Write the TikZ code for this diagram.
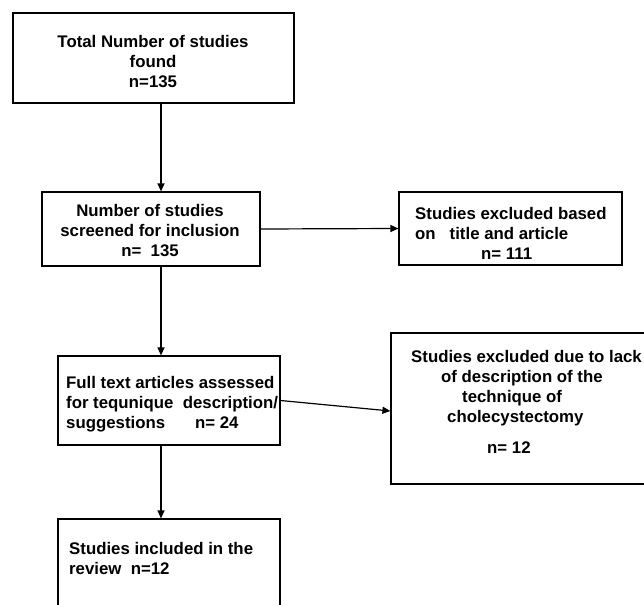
\documentclass[tikz,border=0pt]{standalone}
\usepackage{fontspec}
\setmainfont{Liberation Sans}
\usetikzlibrary{arrows.meta,calc}
\begin{document}
\begin{tikzpicture}[x=1pt,y=-1pt,
  boxnode/.style={draw=black,line width=1.2pt,rectangle,inner sep=0pt,fill=white},
  txt/.style={inner sep=0pt,font=\bfseries\fontsize{16.8}{20}\selectfont},
  conn/.style={line width=1.2pt,draw=black},
  arr/.style={conn,-{Triangle[length=8pt,width=7pt]}}]
\clip (0,0) rectangle (644,604);
\fill[white] (0,0) rectangle (644,604);
% boxes
\node[boxnode,minimum width=281pt,minimum height=90pt] (b1) at (153.5,58) {};
\node[boxnode,minimum width=218pt,minimum height=74pt] (b2) at (151,229) {};
\node[boxnode,minimum width=223pt,minimum height=73pt] (b3) at (510.5,228.5) {};
\node[boxnode,minimum width=222pt,minimum height=89pt] (b4) at (169,400.5) {};
\node[boxnode,minimum width=269pt,minimum height=151pt] (b5) at (525.5,408.5) {};
\node[boxnode,minimum width=222pt,minimum height=121pt] (b6) at (169,579.5) {};
% texts
\node[txt,align=center] (t1) at (153,62) {Total Number of studies\\found\\n=135};
\node[txt,align=center] (t2) at (150,231) {Number of studies\\screened for inclusion\\n=\ \ 135};
\node[txt,align=left,anchor=west] (t3) at (415,233) {Studies excluded based\\on\ \ \ title and article\\\hspace*{66pt}n= 111};
\node[txt,align=left,anchor=west] (t4) at (66,404) {Full text articles assessed\\for tequnique\ \ description/\\suggestions\hspace{30pt}n= 24};
\node[txt,align=left,anchor=north west] (t5) at (411,350) {Studies excluded due to lack\\\hspace*{30pt}of description of the\\\hspace*{51pt}technique of\\\hspace*{36pt}cholecystectomy\\[11pt]\hspace*{76pt}n= 12};
\node[txt,align=left,anchor=west] (t6) at (69,558) {Studies included in the\\review\ \ n=12};
% connectors
\coordinate (cx) at (161,0);
\draw[arr] (b1.south -| cx) -- (b2.north -| cx);
\draw[arr] (b2.east) -- (b3.west);
\draw[arr] (b2.south -| cx) -- (b4.north -| cx);
\draw[arr] (b4.east) -- ($(b5.west)+(0,2.5)$);
\draw[arr] (b4.south -| cx) -- (b6.north -| cx);
\end{tikzpicture}
\end{document}
